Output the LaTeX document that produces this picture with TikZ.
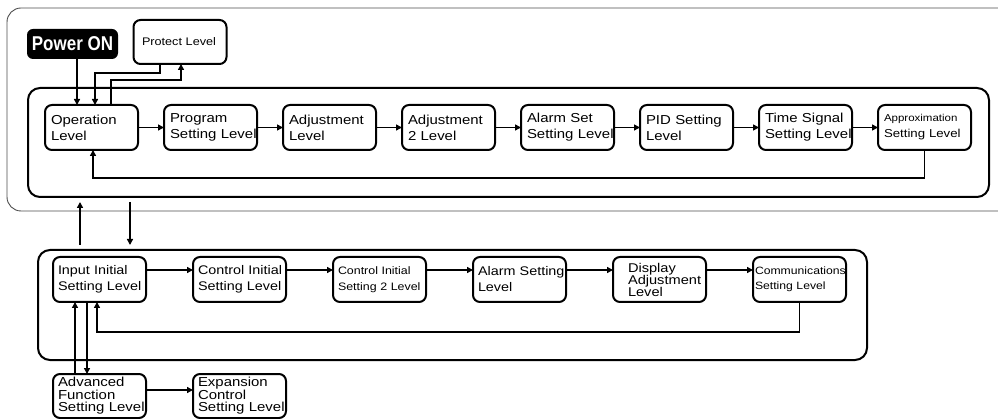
\documentclass[tikz,border=0pt]{standalone}
\usepackage{fontspec}
\setmainfont{Liberation Sans}[FakeStretch=1.15]
\newfontfamily\powerfont{Liberation Sans}[FakeStretch=0.85]
\usetikzlibrary{arrows.meta,positioning,fit}
\hyphenpenalty=10000
\exhyphenpenalty=10000

\tikzset{
  lvl/.style={draw, line width=2pt, rounded corners=7pt, outer sep=0pt,
              minimum width=93pt, minimum height=45pt,
              inner xsep=6pt, inner ysep=0pt, text width=81pt, align=left,
              font=\fontsize{13}{16}\selectfont},
  lvllow/.style={lvl, inner xsep=5pt, text width=83pt,
                 font=\fontsize{12.5}{16}\selectfont},
  grp/.style={draw, line width=2pt, rounded corners=12pt, inner sep=0pt, outer sep=0pt},
  arr/.style={-{Triangle[length=6pt,width=6pt]}, line width=1.7pt},
}

\begin{document}
\begin{tikzpicture}[x=1pt,y=-1pt]
  \useasboundingbox (0,0) rectangle (998,419);

  % outer frame, open to the right
  \draw[line width=0.9pt, draw=black!70, rounded corners=14pt]
    (998,8) -- (7,8) -- (7,211) -- (998,211);

  % group frames
  \node[grp, fit={(28,88) (989,197)}] (upper) {};
  \node[grp, fit={(38,250) (867,360)}] (lower) {};

  % top levels
  \node[fill=black, rounded corners=6pt, minimum width=91pt, minimum height=30pt,
        inner sep=0pt, outer sep=0pt, text=white,
        font=\powerfont\bfseries\fontsize{20}{22}\selectfont]
        (pwr) at (72.5,44) {Power~ON};
  \node[lvl, minimum height=44pt, inner xsep=8pt, text width=76pt,
        font=\fontsize{11}{14}\selectfont] (prot) at (180,42) {Protect~Level};

  % upper row
  \node[lvl] (op) at (91.5,127.5) {Operation\\Level};
  \node[lvl, right=26pt of op]   (prog) {Program\\Setting~Level};
  \node[lvl, right=26pt of prog] (adj)  {Adjustment\\Level};
  \node[lvl, right=26pt of adj]  (adjtwo) {Adjustment\\2~Level};
  \node[lvl, right=26pt of adjtwo] (alset) {Alarm~Set\\Setting~Level};
  \node[lvl, right=26pt of alset] (pid) {PID~Setting\\Level};
  \node[lvl, right=26pt of pid]  (tsig) {Time~Signal\\Setting~Level};
  \node[lvl, right=26pt of tsig, font=\fontsize{11.5}{16}\selectfont] (appr)
        {{\fontsize{10}{16}\selectfont Approximation}\\Setting~Level};

  % lower row
  \node[lvllow] (inp) at (99.5,279.5) {Input~Initial\\Setting~Level};
  \node[lvllow, right=47pt of inp] (ctl) {Control~Initial\\Setting~Level};
  \node[lvllow, right=47pt of ctl, font=\fontsize{10.8}{16}\selectfont] (ctltwo)
        {Control~Initial\\Setting~2~Level};
  \node[lvllow, right=47pt of ctltwo] (alrm) {Alarm~Setting\\Level};
  \node[lvllow, right=47pt of alrm, inner xsep=15pt, text width=63pt,
        font=\fontsize{12.7}{12}\selectfont] (disp) {Display\\Adjustment\\Level};
  \node[lvllow, right=47pt of disp, inner xsep=2pt, text width=89pt,
        font=\fontsize{10.6}{15}\selectfont] (comm) {Communications\\Setting~Level};

  % bottom row
  \node[lvllow, minimum height=44pt, font=\fontsize{13}{12.5}\selectfont] (adv)
        at (99.5,396) {Advanced\\Function\\Setting~Level};
  \node[lvllow, minimum height=44pt, font=\fontsize{13}{12.5}\selectfont,
        right=47pt of adv] (exp) {Expansion\\Control\\Setting~Level};

  % power on and protect
  \draw[arr] ([xshift=4.5pt]pwr.south) -- ([xshift=4.5pt]pwr.south |- op.north);
  \draw[arr] ([xshift=-20pt]prot.south) -- ++(0,9) -| ([xshift=3.5pt]op.north);
  \draw[arr] ([xshift=19.5pt]op.north) -- ++(0,-25) -| ([xshift=1pt]prot.south);

  % upper chain
  \draw[arr] (op) -- (prog);
  \draw[arr] (prog) -- (adj);
  \draw[arr] (adj) -- (adjtwo);
  \draw[arr] (adjtwo) -- (alset);
  \draw[arr] (alset) -- (pid);
  \draw[arr] (pid) -- (tsig);
  \draw[arr] (tsig) -- (appr);
  \draw[arr] (appr.south) -- ++(0,28) -| ([xshift=1.5pt]op.south);

  % between the groups
  \draw[arr, shorten <=5pt, shorten >=5pt] ([xshift=-372.5pt]lower.north) -- ([xshift=-372.5pt]lower.north |- upper.south);
  \draw[arr, shorten <=5pt, shorten >=5pt] ([xshift=-322.5pt]lower.north |- upper.south) -- ([xshift=-322.5pt]lower.north);

  % lower chain
  \draw[arr] ([yshift=9.5pt]inp.east) -- ([yshift=9.5pt]ctl.west);
  \draw[arr] ([yshift=9.5pt]ctl.east) -- ([yshift=9.5pt]ctltwo.west);
  \draw[arr] ([yshift=9.5pt]ctltwo.east) -- ([yshift=9.5pt]alrm.west);
  \draw[arr] ([yshift=9.5pt]alrm.east) -- ([yshift=9.5pt]disp.west);
  \draw[arr] ([yshift=9.5pt]disp.east) -- ([yshift=9.5pt]comm.west);
  \draw[arr] (comm.south) -- ++(0,30) -| ([xshift=-2.5pt]inp.south);

  % advanced function
  \draw[arr] ([xshift=-24.5pt]adv.north) -- ([xshift=-24.5pt]inp.south);
  \draw[arr] ([xshift=-12.5pt]inp.south) -- ([xshift=-12.5pt]adv.north);
  \draw[arr] ([yshift=6pt]adv.east) -- ([yshift=6pt]exp.west);
\end{tikzpicture}
\end{document}
